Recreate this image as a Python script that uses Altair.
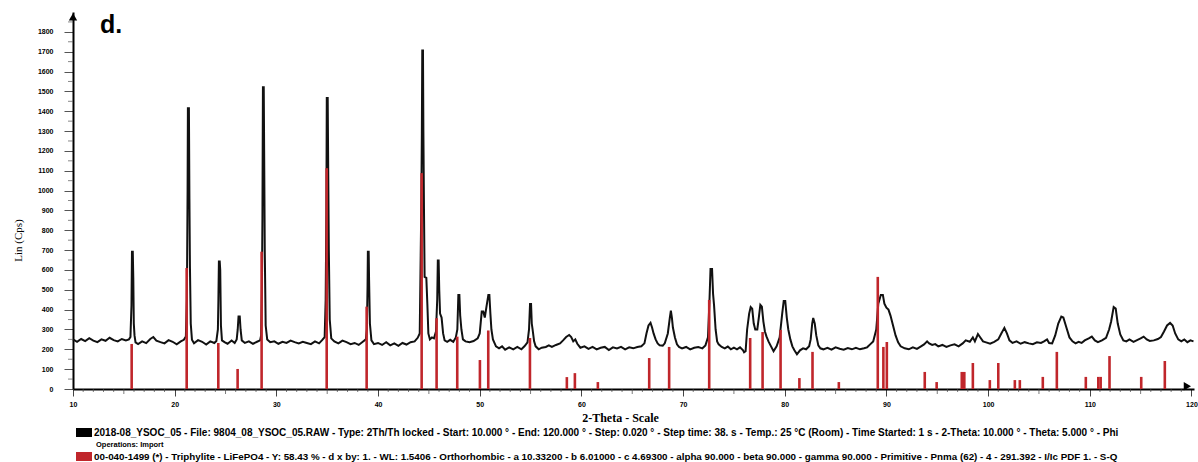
import altair as alt
import pandas as pd

# ---- measured scan: 2-theta (deg) and intensity (counts) ----
scan_2theta = (
    [10.0, 10.4, 10.8, 11.2, 11.6, 12.0, 12.4, 12.8, 13.2, 13.6, 14.0, 14.4, 14.8, 15.2, 15.5]
    + [15.65, 15.75, 15.8, 15.88, 15.93, 15.98, 16.05, 16.15]
    + [16.4, 16.8, 17.2, 17.6, 17.9, 18.2, 18.6, 19.0, 19.4, 19.8, 20.2, 20.6, 20.9]
    + [21.1, 21.2, 21.27, 21.3, 21.4, 21.45, 21.5, 21.58, 21.7]
    + [21.9, 22.3, 22.7, 23.1, 23.5, 23.9, 24.1]
    + [24.25, 24.3, 24.35, 24.43, 24.48, 24.55, 24.65]
    + [24.9, 25.2, 25.6, 25.9, 26.1]
    + [26.2, 26.28, 26.4, 26.48, 26.6]
    + [26.9, 27.3, 27.7, 28.1, 28.4]
    + [28.5, 28.58, 28.63, 28.68, 28.76, 28.8, 28.86, 28.95, 29.1]
    + [29.4, 29.8, 30.2, 30.6, 31.0, 31.4, 31.8, 32.2, 32.6, 33.0, 33.4, 33.8, 34.2, 34.5, 34.75]
    + [34.85, 34.92, 34.96, 35.05, 35.1, 35.16, 35.25, 35.4]
    + [35.7, 36.1, 36.5, 36.9, 37.3, 37.7, 38.1, 38.5, 38.8]
    + [38.9, 38.97, 39.0, 39.08, 39.12, 39.2, 39.35]
    + [39.6, 40.0, 40.4, 40.8, 41.2, 41.6, 42.0, 42.4, 42.8, 43.2, 43.6, 43.9]
    + [44.1, 44.25, 44.31, 44.35, 44.42, 44.46, 44.52, 44.58, 44.75, 44.85, 44.95, 45.1, 45.3, 45.5]
    + [45.7, 45.82, 45.88, 45.96, 46.02, 46.1, 46.25, 46.4, 46.55]
    + [46.8, 47.1, 47.4, 47.65]
    + [47.8, 47.9, 48.0, 48.08, 48.2, 48.35]
    + [48.6, 49.0, 49.4, 49.8, 50.0]
    + [50.2, 50.35, 50.5, 50.65, 50.85, 50.95, 51.05, 51.15, 51.3]
    + [51.6, 51.9, 52.2, 52.5, 52.9, 53.3, 53.7, 54.1, 54.4, 54.7]
    + [54.85, 54.95, 55.05, 55.12, 55.2, 55.35, 55.5]
    + [55.8, 56.1, 56.5, 56.8, 57.1, 57.5, 57.9, 58.2, 58.5, 58.8, 59.0, 59.2, 59.4, 59.6]
    + [59.9, 60.3, 60.7, 61.1, 61.5, 61.9, 62.3, 62.7, 63.1, 63.5, 63.9, 64.3, 64.7, 65.1, 65.5, 65.9, 66.2]
    + [66.4, 66.6, 66.8, 66.95, 67.1, 67.3, 67.5, 67.7, 68.0]
    + [68.2, 68.5, 68.7, 68.8, 68.9, 69.0, 69.2, 69.4, 69.6]
    + [69.9, 70.3, 70.7, 71.1, 71.5, 71.9, 72.2]
    + [72.45, 72.6, 72.7, 72.85, 72.95, 73.05, 73.2, 73.35, 73.5]
    + [73.8, 74.1, 74.4, 74.7, 75.0, 75.3, 75.6, 75.9, 76.0, 76.15]
    + [76.3, 76.5, 76.65, 76.8, 76.95, 77.1, 77.3, 77.45, 77.6, 77.75, 77.9, 78.05, 78.2, 78.4, 78.6, 78.9, 79.2]
    + [79.5, 79.75, 79.9, 80.05, 80.2, 80.35, 80.55, 80.75, 80.95, 81.2, 81.5, 81.8, 82.1, 82.4]
    + [82.55, 82.7, 82.8, 82.95, 83.1, 83.3, 83.5]
    + [83.8, 84.2, 84.6, 85.0, 85.4, 85.8, 86.2, 86.6, 87.0, 87.4, 87.8, 88.1, 88.4]
    + [88.7, 89.0, 89.2, 89.45, 89.65, 89.8, 90.0, 90.2, 90.4, 90.65, 90.9, 91.15, 91.4]
    + [91.8, 92.2, 92.6, 93.0, 93.4, 93.7, 94.0, 94.2, 94.5, 94.8, 95.1, 95.5, 95.9, 96.3, 96.7, 97.1, 97.5, 97.8]
    + [98.2, 98.5, 98.7, 99.0, 99.2, 99.5, 99.8, 100.2, 100.6, 101.0, 101.3, 101.6, 101.85, 102.1, 102.4]
    + [102.8, 103.2, 103.6, 104.0, 104.4, 104.8, 105.2, 105.5, 105.8, 106.0, 106.3]
    + [106.6, 106.9, 107.2, 107.4, 107.7, 108.0, 108.3, 108.6, 108.9, 109.2, 109.5, 109.9, 110.2, 110.5, 110.8, 111.2, 111.6, 111.9]
    + [112.1, 112.35, 112.55, 112.75, 113.0, 113.3, 113.6, 113.9, 114.3, 114.7, 115.0, 115.3, 115.6, 115.9, 116.3, 116.7, 117.0]
    + [117.3, 117.6, 117.9, 118.15, 118.4, 118.7, 119.0, 119.3, 119.6, 119.9, 120.2]
)
scan_counts = (
    [250, 238, 252, 241, 256, 244, 236, 250, 243, 258, 246, 240, 252, 245, 250]
    + [262, 420, 692, 692, 560, 330, 270, 235]
    + [226, 240, 231, 252, 262, 244, 236, 230, 246, 238, 225, 240, 248]
    + [265, 450, 1000, 1415, 1415, 960, 620, 330, 248]
    + [230, 246, 238, 224, 240, 232, 242]
    + [300, 450, 642, 642, 600, 320, 245]
    + [236, 228, 244, 232, 250]
    + [300, 365, 365, 300, 245]
    + [232, 240, 228, 238, 245]
    + [270, 500, 860, 1521, 1521, 1200, 700, 320, 250]
    + [236, 240, 228, 238, 232, 244, 236, 230, 238, 232, 226, 240, 230, 246, 262]
    + [450, 900, 1466, 1466, 1100, 700, 350, 255]
    + [240, 230, 244, 236, 226, 232, 222, 238, 250]
    + [300, 520, 692, 692, 550, 330, 245]
    + [226, 232, 222, 236, 220, 230, 218, 232, 224, 236, 240, 258]
    + [280, 900, 1290, 1706, 1706, 1300, 900, 565, 560, 430, 280, 250, 260, 255]
    + [290, 450, 647, 647, 500, 380, 360, 280, 245]
    + [238, 248, 238, 260]
    + [300, 474, 474, 370, 300, 250]
    + [240, 236, 242, 255, 280]
    + [390, 390, 360, 410, 474, 474, 380, 300, 250]
    + [215, 205, 215, 198, 210, 200, 212, 200, 215, 235]
    + [300, 429, 429, 330, 300, 240, 215]
    + [200, 208, 212, 220, 212, 222, 230, 245, 262, 272, 262, 240, 250, 228]
    + [208, 215, 202, 212, 200, 208, 212, 196, 210, 204, 212, 200, 210, 205, 212, 215, 230]
    + [280, 320, 333, 310, 280, 250, 230, 220, 218]
    + [230, 280, 360, 395, 360, 310, 260, 225, 212]
    + [205, 212, 200, 208, 212, 205, 220]
    + [260, 450, 605, 605, 480, 420, 300, 240, 225]
    + [212, 205, 214, 200, 208, 200, 210, 195, 185, 190]
    + [300, 380, 413, 405, 330, 300, 300, 360, 424, 415, 340, 290, 265, 240, 220, 190, 215]
    + [260, 380, 444, 444, 360, 300, 250, 215, 195, 175, 195, 205, 200, 215]
    + [250, 330, 358, 330, 270, 220, 205]
    + [200, 208, 198, 210, 203, 198, 206, 200, 208, 200, 205, 210, 225]
    + [240, 300, 430, 474, 474, 430, 410, 400, 370, 320, 270, 235, 215]
    + [205, 200, 210, 202, 215, 225, 240, 230, 222, 226, 215, 222, 212, 220, 225, 215, 230, 245]
    + [238, 260, 240, 277, 262, 240, 235, 228, 238, 250, 280, 308, 280, 245, 232]
    + [240, 228, 236, 230, 226, 235, 232, 240, 250, 232, 230]
    + [270, 330, 365, 360, 310, 260, 240, 230, 238, 232, 245, 255, 264, 245, 236, 245, 258, 300]
    + [340, 413, 405, 330, 275, 245, 240, 250, 238, 248, 255, 264, 250, 242, 245, 252, 262]
    + [290, 320, 333, 320, 280, 250, 240, 250, 236, 245, 240]
)

# ---- reference card 00-040-1499 (Triphylite): stick positions and heights ----
ref_2theta = [15.77, 21.18, 24.29, 26.19, 28.55, 34.95, 38.88, 44.29, 45.76, 47.79,
              50.02, 50.84, 54.94, 58.57, 59.36, 61.62, 66.67, 68.63, 72.57, 76.6,
              77.82, 79.59, 81.44, 82.73, 85.32, 89.15, 89.7, 90.04, 93.77, 94.94,
              97.41, 97.66, 98.5, 100.17, 101.0, 102.63, 103.12, 105.38, 106.76, 109.61,
              110.84, 111.07, 111.94, 115.06, 117.38]
ref_counts = [227, 610, 232, 101, 692, 1113, 415, 1088, 357, 264,
              146, 295, 257, 60, 80, 35, 156, 212, 449, 257,
              287, 298, 55, 187, 35, 565, 212, 237, 86, 35,
              86, 86, 131, 45, 131, 45, 45, 61, 187, 61,
              61, 61, 166, 61, 141]

# ---- axes and annotation text ----
x_major = list(range(10, 121, 10))
x_minor = [v for v in range(11, 121) if v % 10 != 0]
y_major = list(range(0, 1801, 100))
y_minor = list(range(50, 1851, 100))
x_title = "2-Theta - Scale"
y_title = "Lin (Cps)"
panel_tag = "d."
legend_scan = ("2018-08_YSOC_05 - File: 9804_08_YSOC_05.RAW - Type: 2Th/Th locked - Start: 10.000 \u00b0 - "
               "End: 120.000 \u00b0 - Step: 0.020 \u00b0 - Step time: 38. s - Temp.: 25 \u00b0C (Room) - "
               "Time Started: 1 s - 2-Theta: 10.000 \u00b0 - Theta: 5.000 \u00b0 - Phi")
legend_ops = "Operations: Import"
legend_ref = ("00-040-1499 (*) - Triphylite - LiFePO4 - Y: 58.43 % - d x by: 1. - WL: 1.5406 - "
              "Orthorhombic - a 10.33200 - b 6.01000 - c 4.69300 - alpha 90.000 - beta 90.000 - "
              "gamma 90.000 - Primitive - Pnma (62) - 4 - 291.392 - I/Ic PDF 1. - S-Q")

RED = "#c0262b"
TICK = "#444"
W, H = 1121, 377
X_MAX, Y_MAX = 120.25, 1900

scan_df = pd.DataFrame({"theta": scan_2theta, "counts": scan_counts})
ref_df = pd.DataFrame({"theta": ref_2theta, "counts": ref_counts})

x_scale = alt.Scale(domain=[10, X_MAX], nice=False, zero=False)
y_scale = alt.Scale(domain=[0, Y_MAX], nice=False)

x_axis = alt.Axis(
    values=x_major,
    format="d",
    labelOverlap=False,
    labelFlush=False,
    labelFont="Liberation Sans",
    labelFontWeight="bold",
    labelFontSize=7,
    labelColor="black",
    labelPadding=4,
    tickSize=7,
    tickColor=TICK,
    tickWidth=1,
    domainColor="black",
    domainWidth=2,
    grid=False,
    title=x_title,
    titleFont="Liberation Serif",
    titleFontWeight="bold",
    titleFontSize=12,
    titleX=547,
    titleY=28,
    titleAlign="center",
    titleBaseline="middle",
)
y_axis = alt.Axis(
    values=y_major,
    format="d",
    labelOverlap=False,
    labelFlush=False,
    labelFont="Liberation Sans",
    labelFontWeight="bold",
    labelFontSize=7,
    labelColor="black",
    labelPadding=11,
    tickSize=9,
    tickColor="#555",
    tickWidth=1,
    domainColor="black",
    domainWidth=2,
    grid=False,
    title=y_title,
    titleFont="Liberation Serif",
    titleFontWeight="normal",
    titleFontSize=11,
    titleAngle=270,
    titleX=-55,
    titleY=228,
    titleAlign="center",
    titleBaseline="middle",
)

# every layer shares the same position channels, scales and axes
X = alt.X("theta:Q", scale=x_scale, axis=x_axis)
Y = alt.Y("counts:Q", scale=y_scale, axis=y_axis)

# measured pattern
scan = alt.Chart(scan_df).mark_line(color="#111", strokeWidth=2, interpolate="linear").encode(
    x=X, y=Y,
)

# reference sticks drawn over the scan
sticks = alt.Chart(ref_df).mark_rule(color=RED, strokeWidth=2.6).encode(
    x=X, y=Y, y2=alt.datum(0),
)

# minor ticks along both axes (every degree / every 50 counts)
xminor_df = pd.DataFrame({
    "theta": x_minor,
    "counts": [0] * len(x_minor),
    "half": [v % 5 == 0 for v in x_minor],
})
x_minor_short = alt.Chart(xminor_df).transform_filter("!datum.half").mark_tick(
    orient="vertical", size=3, thickness=1, color=TICK, yOffset=1.5,
).encode(x=X, y=Y)
x_minor_mid = alt.Chart(xminor_df).transform_filter("datum.half").mark_tick(
    orient="vertical", size=5, thickness=1, color=TICK, yOffset=2.5,
).encode(x=X, y=Y)
yminor_df = pd.DataFrame({"theta": [10] * len(y_minor), "counts": y_minor})
y_minor_ticks = alt.Chart(yminor_df).mark_tick(
    orient="horizontal", size=5, thickness=1, color="#555", xOffset=-2.5,
).encode(x=X, y=Y)

# arrow heads at the ends of both axes
arrows = alt.Chart(pd.DataFrame({
    "theta": [10, 119.6],
    "counts": [1876, 14],
    "shape": ["triangle-up", "triangle-right"],
})).mark_point(filled=True, color="black", opacity=1, size=70).encode(
    x=X, y=Y, shape=alt.Shape("shape:N", scale=None),
)

# panel tag
tag = alt.Chart(pd.DataFrame({"theta": [12.66], "counts": [1794], "t": [panel_tag]})).mark_text(
    align="left", baseline="alphabetic", font="Liberation Sans", fontWeight="bold", fontSize=25,
    color="black",
).encode(x=X, y=Y, text="t:N")

# legend block under the plot
def legend_line(text, y, x=21, size=10):
    return alt.Chart(pd.DataFrame({"t": [text]})).mark_text(
        align="left", baseline="middle", font="Liberation Sans", fontWeight="bold",
        fontSize=size, color="black",
    ).encode(x=alt.value(x), y=alt.value(y), text="t:N")

def legend_box(color, y):
    return alt.Chart(pd.DataFrame({"c": [color]})).mark_rect(color=color).encode(
        x=alt.value(3), x2=alt.value(19), y=alt.value(y), y2=alt.value(y + 9),
    )

legend = [
    legend_box("black", 416),
    legend_line(legend_scan, 421),
    legend_line(legend_ops, 433, x=23, size=7.5),
    legend_box(RED, 440),
    legend_line(legend_ref, 445, size=9.8),
]

chart = alt.layer(
    scan, sticks, x_minor_short, x_minor_mid, y_minor_ticks, arrows, tag, *legend
).properties(
    width=W,
    height=H,
    autosize=alt.AutoSizeParams(type="none"),
    padding={"left": 73, "top": 12, "right": 4, "bottom": 73},
).configure_view(stroke=None).configure_axis(labelOverlap=False)

chart.save("out.html", embed_options={"renderer": "svg", "actions": False})
